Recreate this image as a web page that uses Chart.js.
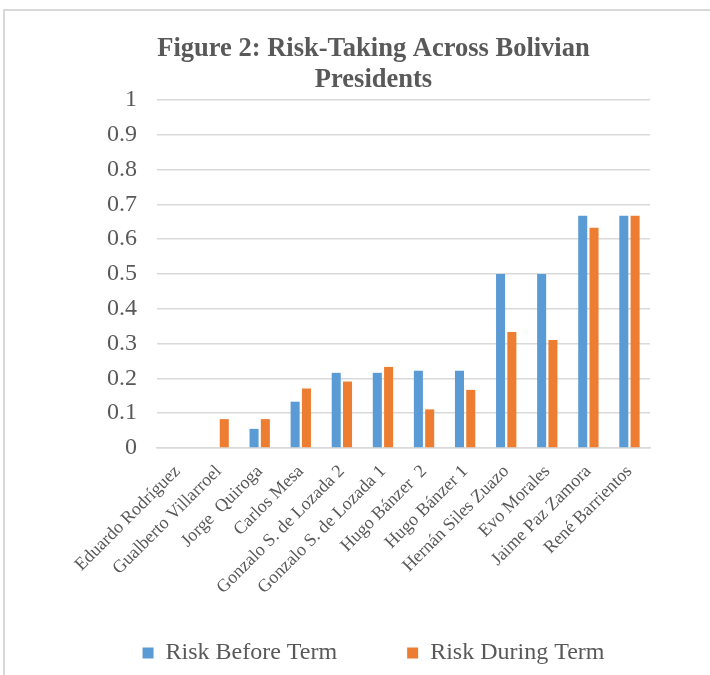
<!DOCTYPE html>
<html>
<head>
<meta charset="utf-8">
<script src="https://cdn.jsdelivr.net/npm/chart.js@4"></script>
<style>
  body { margin: 0; background: #fff; overflow: hidden; }
  #wrap { position: relative; width: 710px; height: 675px; overflow: hidden; }
  #frame { position: absolute; left: 3px; top: 9px; width: 800px; height: 800px;
           border-left: 2px solid #d9d9d9; border-top: 2px solid #d9d9d9; }
  canvas { position: absolute; left: 0; top: 0; }
</style>
</head>
<body>
<div id="wrap">
  <div id="frame"></div>
  <canvas id="riskChart" width="710" height="675"></canvas>
</div>
<script>
'use strict';

// ---------------- data ----------------
const presidents = [
  'Eduardo Rodríguez', 'Gualberto Villarroel', 'Jorge  Quiroga', 'Carlos Mesa',
  'Gonzalo S. de Lozada 2', 'Gonzalo S. de Lozada 1', 'Hugo Bánzer  2', 'Hugo Bánzer 1',
  'Hernán Siles Zuazo', 'Evo Morales', 'Jaime Paz Zamora', 'René Barrientos'
];
const riskBefore = [0, 0, 0.055, 0.133, 0.216, 0.216, 0.222, 0.222, 0.5, 0.5, 0.667, 0.667];
const riskDuring = [0, 0.083, 0.083, 0.171, 0.191, 0.233, 0.111, 0.167, 0.333, 0.31, 0.633, 0.667];
const yTickLabels = ['0', '0.1', '0.2', '0.3', '0.4', '0.5', '0.6', '0.7', '0.8', '0.9', '1'];

const textGray = '#595959';
const gridGray = '#d9d9d9';
const serif = '"Liberation Serif", "Times New Roman", serif';

// ---------------- chart ----------------
const chartVar = document.getElementById('riskChart').getContext('2d');
const riskChart = new Chart(chartVar, {
  type: 'bar',
  data: {
    labels: presidents,
    datasets: [{
      label: 'Risk Before Term',
      data: riskBefore,
      backgroundColor: '#5b9bd5',
      barPercentage: 0.8,
      categoryPercentage: 0.55
    }, {
      label: 'Risk During Term',
      data: riskDuring,
      backgroundColor: '#ed7d31',
      barPercentage: 0.8,
      categoryPercentage: 0.55
    }]
  },
  options: {
    responsive: false,
    animation: false,
    devicePixelRatio: 1,
    layout: {
      padding: { top: 34, left: 97, right: 60, bottom: 0 }
    },
    plugins: {
      title: {
        display: true,
        text: ['Figure 2: Risk-Taking Across Bolivian', 'Presidents'],
        color: textGray,
        font: { family: serif, size: 26.5, weight: 'bold', lineHeight: 1.15 },
        padding: { top: 0, bottom: 5 }
      },
      legend: {
        position: 'bottom',
        labels: {
          color: textGray,
          font: { family: serif, size: 24 },
          boxWidth: 11,
          boxHeight: 11,
          padding: 10,
          generateLabels: function(chart) {
            const items = Chart.defaults.plugins.legend.labels.generateLabels(chart);
            // word-style legend: wide slot for the first entry
            items[0].text = items[0].text + '          ';
            return items;
          }
        }
      },
      tooltip: { enabled: false }
    },
    scales: {
      x: {
        grid: { display: false },
        border: { display: true, color: gridGray, width: 1.5 },
        ticks: {
          color: textGray,
          font: { family: serif, size: 18 },
          maxRotation: 45,
          minRotation: 45,
          autoSkip: false,
          padding: 5
        },
        afterFit: function(scale) { scale.height = 183; }
      },
      y: {
        min: 0,
        max: 1,
        border: { display: false },
        grid: { color: gridGray, lineWidth: 1.5, drawTicks: false },
        ticks: {
          stepSize: 0.1,
          color: textGray,
          font: { family: serif, size: 24 },
          padding: 20,
          callback: function(value, index) { return yTickLabels[index]; }
        },
        afterFit: function(scale) { scale.width = 60; }
      }
    }
  }
});
</script>
</body>
</html>
